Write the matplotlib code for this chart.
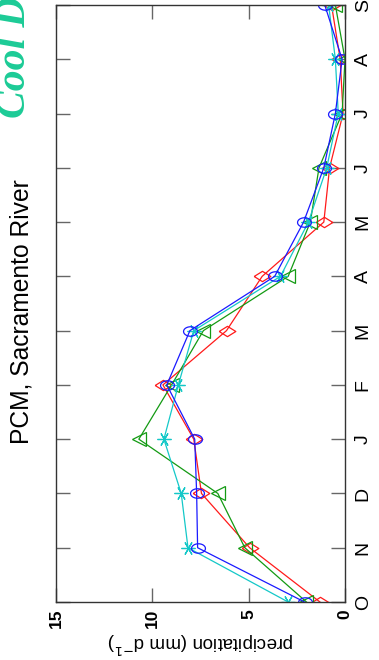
import matplotlib
matplotlib.use("Agg")
import matplotlib.pyplot as plt
import numpy as np

months = ["O", "N", "D", "J", "F", "M", "A", "M", "J", "J", "A", "S"]
precip_ticks = [15, 10, 5, 0]

# monthly mean precipitation (mm/day), Oct..Sep
series_blue = [2.1, 7.65, 7.7, 7.8, 9.25, 8.05, 3.65, 2.15, 1.1, 0.5, 0.15, 1.05]
series_red = [1.3, 4.95, 7.45, 7.85, 9.45, 6.15, 4.3, 1.1, 0.8, 0.1, 0.25, 0.7]
series_green = [2.0, 5.2, 6.6, 10.7, 9.0, 7.35, 2.95, 1.8, 1.35, 0.15, 0.0, 0.5]
series_cyan = [2.95, 8.15, 8.5, 9.4, 8.65, 7.85, 3.35, 1.9, 0.95, 0.35, 0.5, 0.85]

sans = "Liberation Sans"

fig = plt.figure(figsize=(3.79, 6.60), dpi=100)
ax = fig.add_axes([56 / 379, 1 - 602 / 660, 289 / 379, 597 / 660])

t = np.linspace(0, 2 * np.pi, 40)
ellipse = np.column_stack([np.cos(t), 0.68 * np.sin(t)])
wide_diamond = [(-1, 0), (0, 0.62), (1, 0), (0, -0.62), (-1, 0)]

pos = np.arange(len(months))
styles = [
    (series_red, "#ff1a1a", wide_diamond, 12),
    (series_green, "#139a13", "<", 10),
    (series_cyan, "#14c8c8", (6, 2, 90), 10),
    (series_blue, "#1a1aff", ellipse, 10),
]
for vals, col, mk, ms in styles:
    ax.plot(vals, pos, color=col, lw=0.9, marker=mk, ms=ms,
            mfc="none", mec=col, mew=0.9)

ax.set_xlim(15, 0)
ax.set_ylim(0, 11)
ax.set_xticks(precip_ticks)
ax.set_xticklabels([str(v) for v in precip_ticks], rotation=90,
                   fontsize=12.5, family=sans, weight="bold",
                   va="top", ha="center")
ax.set_yticks(pos)
ax.set_yticklabels(months, rotation=90, fontsize=14, family=sans,
                   va="center", ha="left")
ax.tick_params(axis="both", direction="in", length=10, width=1.0,
               color="#666666", top=True, right=True,
               left=True, bottom=True, labelleft=False, labelright=True)
ax.tick_params(axis="y", pad=7)
ax.tick_params(axis="x", pad=5)
for s in ax.spines.values():
    s.set_color("#333333")
    s.set_linewidth(1.0)

ax.set_xlabel("precipitation (mm d$^{-1}$)", rotation=180, fontsize=13.5,
              family=sans, labelpad=1)

fig.text(22 / 379, 1 - 312 / 660, "PCM, Sacramento River", rotation=90,
         fontsize=17.7, family=sans, ha="center", va="center")
fig.text(-4 / 379, 1 - 118 / 660, "Cool D", rotation=90, fontsize=30,
         family="Liberation Serif", style="italic", weight="bold",
         color="#1ccb96", ha="left", va="bottom")

fig.savefig("out.png", dpi=100)
